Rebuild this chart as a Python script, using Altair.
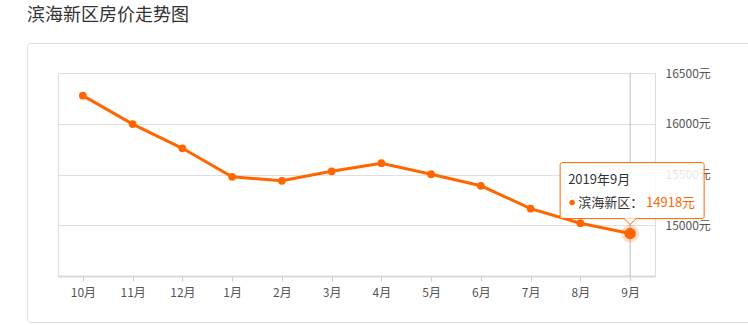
import altair as alt
import pandas as pd

chart_title = "滨海新区房价走势图"
months = ["10月", "11月", "12月", "1月", "2月", "3月", "4月", "5月", "6月", "7月", "8月", "9月"]
prices = [16277, 15997, 15758, 15477, 15438, 15532, 15611, 15503, 15389, 15164, 15020, 14918]
hover_month = "9月"
hover_title = "2019年9月"
series_name = "滨海新区"
y_ticks = [15000, 15500, 16000, 16500]
y_domain = [14500, 16500]

ORANGE = "#ff6600"
FONT = "Noto Sans CJK SC"

df = pd.DataFrame({"month": months, "price": prices})
tip = df[df["month"] == hover_month].copy()
tip["header"] = hover_title
tip["series"] = series_name + "："
tip["label"] = tip["price"].astype(str) + "元"

xenc = alt.X(
    "month:N", sort=months,
    scale=alt.Scale(type="point", padding=0.5),
    axis=alt.Axis(title=None, labelAngle=0, domainColor="#d9d9d9", domainWidth=2,
                  tickColor="#cccccc", tickSize=5, labelColor="#555555",
                  labelFontSize=12, labelPadding=6, grid=False, labelFont=FONT),
)
yenc = alt.Y(
    "price:Q",
    scale=alt.Scale(domain=y_domain, nice=False, zero=False),
    axis=alt.Axis(orient="right", title=None, values=y_ticks,
                  labelExpr="datum.value + '元'", ticks=False,
                  domainColor="#dddddd", gridColor="#e0e0e0", labelColor="#555555",
                  labelFontSize=12, labelPadding=10, labelFont=FONT),
)

base = alt.Chart(df)
tbase = alt.Chart(tip)

frame = tbase.mark_rect(fillOpacity=0, stroke="#dddddd", strokeWidth=1, cornerRadius=3).encode(
    x=alt.value(-30.5), x2=alt.value(720), y=alt.value(-29.5), y2=alt.value(249.5)
)
cross = tbase.mark_rule(color="#bbbbbb", strokeWidth=1).encode(x=xenc)
line = base.mark_line(color=ORANGE, strokeWidth=3).encode(x=xenc, y=yenc)
pts = base.mark_circle(size=60, color=ORANGE, opacity=1).encode(x=xenc, y=yenc)
halo = tbase.mark_circle(size=320, color=ORANGE, opacity=0.22).encode(x=xenc, y=yenc)
hov = tbase.mark_circle(size=130, color=ORANGE, opacity=1).encode(x=xenc, y=yenc)

box = tbase.mark_rect(fill="white", fillOpacity=0.85, stroke=ORANGE, strokeWidth=1,
                      cornerRadius=2, xOffset=-70, x2Offset=74, yOffset=-71, y2Offset=-15).encode(
    x=xenc, x2="month", y=yenc, y2="price"
)
arrow_fill = tbase.mark_point(shape="M-1,-0.55L0,0.5L1,-0.55Z", size=144, filled=True,
                              fill="white", opacity=1, strokeWidth=0, yOffset=-12).encode(x=xenc, y=yenc)
arrow_line = tbase.mark_point(shape="M-1,-0.5L0,0.5L1,-0.5", size=144, filled=False,
                              stroke=ORANGE, strokeWidth=1, opacity=1, yOffset=-12).encode(x=xenc, y=yenc)

header = tbase.mark_text(align="left", baseline="middle", dx=-62, dy=-54, fontSize=13,
                         color="#333333", font=FONT).encode(x=xenc, y=yenc, text="header:N")
dot = tbase.mark_circle(size=30, color=ORANGE, opacity=1, xOffset=-58, yOffset=-31).encode(x=xenc, y=yenc)
series = tbase.mark_text(align="left", baseline="middle", dx=-52, dy=-31, fontSize=13,
                         color="#333333", font=FONT).encode(x=xenc, y=yenc, text="series:N")
value = tbase.mark_text(align="right", baseline="middle", dx=65, dy=-31, fontSize=13,
                        color=ORANGE, font=FONT).encode(x=xenc, y=yenc, text="label:N")

chart = alt.layer(
    frame, cross, line, pts, halo, hov, box, arrow_fill, arrow_line, header, dot, series, value
).properties(
    width=597, height=203,
    title=alt.TitleParams(chart_title, anchor="start", frame="group", dx=-31, offset=18,
                          fontSize=18, color="#333333", font=FONT, fontWeight="normal"),
    autosize=alt.AutoSizeParams(type="none"),
    padding={"left": 58, "top": 73, "right": 93, "bottom": 49},
).configure_view(stroke=None).configure(background="white")

chart.save("out.html", embed_options={"renderer": "svg", "actions": False})
